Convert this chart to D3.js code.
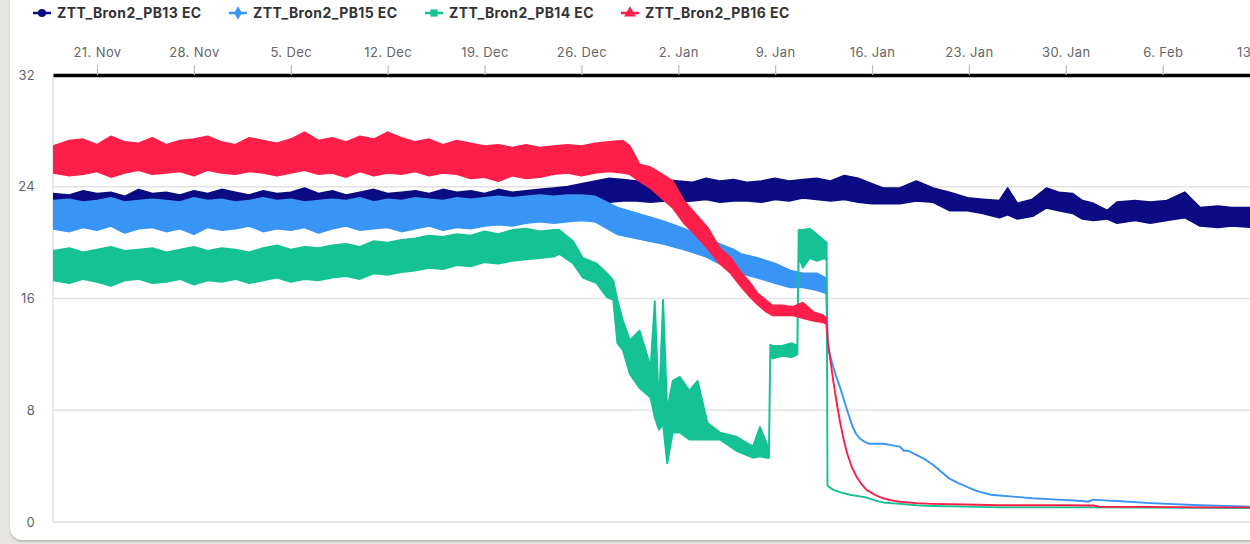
<!DOCTYPE html>
<html>
<head>
<meta charset="utf-8">
<script src="https://cdn.jsdelivr.net/npm/d3@7"></script>
<style>
  html, body { margin: 0; padding: 0; background: #e8e6e2; overflow: hidden; }
  body { width: 1250px; height: 544px; position: relative; }
  .card { position: absolute; left: 10px; top: -20px; width: 1300px; height: 560px;
          background: #fff; border-radius: 12px; box-shadow: 0 2px 2px rgba(0,0,0,0.18); }
  svg { position: absolute; left: 0; top: 0; }
  text { font-family: Inter, "Noto Sans", sans-serif; }
</style>
</head>
<body>
<div class="card"></div>
<svg id="chart" width="1250" height="544"></svg>
<script>
// EC readings, well 2 sensors. Time is given in days from 21 Nov 2022 (00:00 UTC).
// Noisy stretches carry a low/high envelope per sample; where the hi list ends
// the reading is a clean single line (hi = lo).

const pb13Days = [-3.2,-2,-1,0,1,2,3,4,5,6,7,8,9,10,11,12,13,14,15,16,17,18,19,20,21,22,23,24,25,26,27,28,29,30,31,32,33,
  34,35,36,37,38,39,40,41,42,43,44,45,46,47,48,49,50,51,52,53,54,55,56,
  56.8,58.0,59.2,60.4,61.6,62.9,64.0,65.2,65.8,66.5,67.6,68.6,69.5,70.5,71.2,72.0,73.0,73.7,75.0,76.1,77.3,78.6,79.7,81.0,82.0,83.4];
const pb13Lo = [22.0,21.9,22.1,22.0,21.8,22.1,22.0,22.2,21.9,22.0,22.1,21.9,22.0,22.2,22.0,21.9,22.1,22.0,22.0,22.1,
  21.9,22.0,22.2,22.0,22.1,21.9,22.0,22.1,22.0,22.2,22.1,22.2,22.1,22.3,22.2,22.3,22.4,
  22.5,22.6,22.8,22.9,23.0,23.0,22.9,23.0,22.9,23.0,23.1,22.9,23.0,23.0,22.9,23.1,23.0,23.2,23.1,23.0,23.1,22.9,22.8,
  22.8,22.8,23.0,22.9,22.3,22.3,22.1,21.8,22.0,21.7,21.9,22.5,22.3,22.1,21.7,21.6,21.7,21.4,21.6,21.4,21.6,21.8,21.2,21.1,21.2,21.1];
const pb13Hi = [23.5,23.4,23.7,23.5,23.6,23.3,23.8,23.5,23.6,23.4,23.7,23.5,23.8,23.6,23.4,23.7,23.5,23.6,23.9,23.5,
  23.7,23.4,23.6,23.8,23.5,23.6,23.7,23.5,23.8,23.6,23.7,23.5,23.8,23.6,23.7,23.8,23.9,
  24.0,24.2,24.4,24.6,24.5,24.4,24.3,24.5,24.4,24.3,24.6,24.4,24.5,24.3,24.4,24.6,24.4,24.5,24.6,24.4,24.8,24.6,24.2,
  23.9,23.9,24.4,23.9,23.6,23.2,23.1,23.0,23.9,22.8,23.1,23.9,23.6,23.5,23.0,22.8,22.3,22.9,23.0,22.9,23.0,23.6,22.5,22.6,22.5,22.5];

const pb15Days = [-3.2,-2,-1,0,1,2,3,4,5,6,7,8,9,10,11,12,13,14,15,16,17,18,19,20,21,22,23,24,25,26,27,28,29,30,31,32,33,34,35,
  36,37.6,39,40,41,42.1,43.4,44,45,46,46.5,47.7,49,50.1,51,52,52.6,52.7,
  52.8,53.0,53.2,53.45,53.7,53.95,54.2,54.4,54.6,54.85,55.1,55.45,55.8,56.3,56.8,57.4,58.0,58.1,58.3,58.6,59.2,59.8,
  60.4,61.0,61.6,62.2,62.9,63.5,64.0,64.6,65.2,66.4,67.6,69.4,71.2,71.6,72.0,72.8,73.7,76.1,79.7,83.4];
const pb15Lo = [21.0,20.8,21.1,20.9,21.2,20.7,21.0,21.1,20.8,21.0,20.6,21.1,20.9,21.0,21.2,20.8,21.0,20.9,21.1,20.7,
  21.0,21.2,20.9,21.0,21.1,20.8,21.0,21.2,20.9,21.1,21.0,21.2,21.3,21.2,21.4,21.5,21.4,21.5,21.6,
  21.5,20.6,20.3,20.1,19.9,19.6,19.2,19.0,18.5,18.1,17.8,17.5,17.1,16.8,16.8,16.6,16.4,16.4,
  12.5,11.8,11.1,10.3,9.6,8.8,8.0,7.4,6.8,6.3,6.0,5.75,5.6,5.6,5.6,5.5,5.4,5.3,5.1,5.1,4.8,4.5,
  4.1,3.6,3.1,2.8,2.5,2.25,2.1,1.95,1.9,1.8,1.7,1.6,1.5,1.45,1.6,1.55,1.5,1.35,1.2,1.1];
const pb15Hi = [23.0,23.1,22.9,23.0,23.2,22.9,23.0,23.1,23.0,22.9,23.2,23.0,23.1,22.9,23.0,23.2,23.0,23.1,22.9,23.0,
  23.1,23.0,23.2,22.9,23.1,23.0,23.2,23.1,23.0,23.2,23.1,23.2,23.3,23.2,23.3,23.4,23.3,23.4,23.4,
  23.3,22.5,22.1,21.8,21.5,21.1,20.6,20.4,19.9,19.5,19.2,18.9,18.5,18.0,17.8,17.8,17.5,17.3,
  12.7];

const pb14Days = [-3.2,-2,-1,0,1,2,3,4,5,6,7,8,9,10,11,12,13,14,15,16,17,18,19,20,21,22,23,24,25,26,27,28,29,30,31,32,33,
  33.4,34.4,35.1,36.1,36.85,37.3,37.6,38.0,38.5,39.2,40.0,40.3,40.6,40.9,41.2,41.6,42.1,42.8,43.4,44.1,45.0,46.2,47.4,47.9,48.4,48.55,
  48.65,48.8,49.5,50.2,50.6,50.7,51.0,51.5,52.0,52.6,52.72,
  52.78,53.2,53.8,54.4,55.0,55.6,56.2,56.8,58.0,59.2,60.4,62.8,65.2,72.0,83.4];
const pb14Lo = [17.3,17.1,17.4,17.2,16.9,17.3,17.4,17.1,17.2,17.4,17.0,
  17.3,17.2,17.4,17.1,17.3,17.5,17.2,17.4,17.3,17.5,
  17.6,17.4,17.8,17.7,17.9,18.0,18.2,18.1,18.4,18.3,
  18.6,18.5,18.7,18.8,18.9,19.0,
  19.2,18.5,17.5,17.1,16.1,15.9,12.8,12.3,10.6,9.6,8.9,7.5,6.6,7.0,4.2,6.4,6.4,5.9,5.9,5.9,5.9,5.1,4.6,4.7,4.6,4.6,
  12.3,11.7,11.9,11.8,12.0,19.0,18.2,18.9,18.7,18.9,18.7,
  2.6,2.3,2.1,1.95,1.85,1.75,1.55,1.4,1.3,1.2,1.15,1.1,1.05,1.05,1.0];
const pb14Hi = [19.4,19.6,19.3,19.5,19.7,19.4,19.5,19.6,19.3,19.5,19.7,
  19.4,19.6,19.5,19.3,19.6,19.8,19.5,19.7,19.6,19.8,
  19.9,19.7,20.1,20.0,20.2,20.3,20.5,20.4,20.6,20.5,
  20.8,20.6,20.9,21.0,20.8,20.9,
  20.9,20.1,18.9,18.5,17.8,17.3,15.9,14.4,13.0,13.7,11.1,15.8,8.2,15.9,8.0,10.1,10.4,9.4,10.1,7.1,6.4,6.1,5.4,6.8,5.6,5.1,
  12.7,12.6,12.6,12.8,12.6,20.9,20.9,21.0,20.6,20.1,20.0];

const pb16Days = [-3.2,-2,-1,0,1,2,3,4,5,6,7,8,9,10,11,12,13,14,15,16,17,18,19,20,21,22,23,24,25,26,27,28,29,30,31,32,33,34,35,36,37,38,
  38.5,39.2,40.0,40.8,41.6,42.4,43.2,44.1,45.0,45.8,46.5,47.2,47.7,48.3,48.8,49.5,50.3,51.0,51.8,52.45,52.7,
  52.8,53.0,53.2,53.45,53.7,53.95,54.2,54.55,54.9,55.25,55.6,56.2,56.8,57.4,58.0,59.2,60.4,62.8,65.2,70.0,72.0,72.5,76.0,80.0,83.4];
const pb16Lo = [25.0,24.8,24.9,25.1,24.7,25.0,25.2,24.9,25.0,25.1,24.8,
  25.2,25.0,24.9,25.1,25.0,24.8,25.0,25.2,24.9,25.0,
  24.7,25.1,24.8,25.0,24.9,25.1,24.8,25.0,24.9,24.6,
  24.7,24.4,24.8,24.6,24.7,24.9,25.0,24.8,25.0,25.1,25.0,
  24.9,24.4,23.9,23.2,22.5,21.4,20.6,19.6,18.5,17.8,16.9,16.1,15.6,15.1,14.8,14.8,14.8,14.6,14.4,14.3,14.2,
  13.0,11.5,10.1,8.5,7.1,5.9,4.9,3.9,3.2,2.7,2.3,1.95,1.7,1.55,1.45,1.35,1.3,1.25,1.2,1.2,1.18,1.08,1.08,1.05,1.05];
const pb16Hi = [26.9,27.3,27.4,27.0,27.6,27.2,27.1,27.5,27.0,27.3,27.4,
  27.6,27.2,27.0,27.5,27.3,27.1,27.4,27.9,27.3,27.5,
  27.2,27.6,27.4,27.9,27.5,27.2,27.4,27.0,27.3,27.1,
  26.9,27.0,26.8,27.0,26.8,26.9,27.0,26.9,27.1,27.2,27.3,
  26.9,25.6,25.4,24.9,24.4,23.0,22.1,21.1,19.6,18.9,17.9,17.1,16.4,15.9,15.5,15.5,15.4,15.7,15.0,14.8,14.6];

const seriesNames = ["ZTT_Bron2_PB13 EC", "ZTT_Bron2_PB15 EC", "ZTT_Bron2_PB14 EC", "ZTT_Bron2_PB16 EC"];
const seriesColors = ["#0b0b84", "#3895f5", "#14c294", "#fd1f4a"];
const yTicks = [0, 8, 16, 24, 32];

// ---- layout ----
const W = 1250, H = 544;
const plotLeft = 53, plotTop = 75, plotBottom = 522;
const pxPerDay = 13.84;
const DAY = 864e5;
const base = Date.UTC(2022, 10, 21);
const t0 = new Date(base - 3.18 * DAY);
const t1 = new Date(base + 84.6 * DAY);
const plotRight = plotLeft + (t1 - t0) / DAY * pxPerDay;

const x = d3.scaleUtc().domain([t0, t1]).range([plotLeft, plotRight]);
const y = d3.scaleLinear().domain([0, 32]).range([plotBottom, plotTop]);

const svg = d3.select("#chart");

svg.append("defs").append("clipPath").attr("id", "plot-clip")
  .append("rect").attr("x", plotLeft).attr("y", plotTop - 2)
  .attr("width", plotRight - plotLeft).attr("height", plotBottom - plotTop + 4);

// grid
svg.append("g").selectAll("line").data(yTicks.filter(v => v > 0 && v < 32)).join("line")
  .attr("x1", plotLeft).attr("x2", W).attr("y1", d => y(d)).attr("y2", d => y(d))
  .attr("stroke", "#e3e3e3").attr("stroke-width", 1.3);
svg.append("line").attr("x1", plotLeft).attr("x2", W).attr("y1", y(0)).attr("y2", y(0))
  .attr("stroke", "#dcdcdc").attr("stroke-width", 1.5);
svg.append("line").attr("x1", plotLeft).attr("x2", plotLeft).attr("y1", plotTop).attr("y2", plotBottom)
  .attr("stroke", "#dcdcdc").attr("stroke-width", 1.3);

// y axis labels
const yAxis = svg.append("g").attr("transform", `translate(${plotLeft},0)`)
  .call(d3.axisLeft(y).tickValues(yTicks).tickSize(0).tickPadding(18).tickFormat(d3.format("d")));
yAxis.select(".domain").remove();
yAxis.selectAll("text").attr("fill", "#666").attr("font-size", 13).attr("letter-spacing", 0.3);

// series
const series = seriesNames.map((name, i) => {
  const days = [pb13Days, pb15Days, pb14Days, pb16Days][i];
  const lo = [pb13Lo, pb15Lo, pb14Lo, pb16Lo][i];
  const hi = [pb13Hi, pb15Hi, pb14Hi, pb16Hi][i];
  return {
    name, color: seriesColors[i],
    points: days.map((d, k) => ({ t: new Date(base + d * DAY), lo: lo[k], hi: hi[k] ?? lo[k] }))
  };
});

const band = d3.area()
  .x(p => x(p.t))
  .y0(p => y(p.lo))
  .y1(p => y(p.hi));

const gSeries = svg.append("g").attr("clip-path", "url(#plot-clip)");
gSeries.selectAll("path").data(series).join("path")
  .attr("d", s => band(s.points))
  .attr("fill", s => s.color)
  .attr("stroke", s => s.color)
  .attr("stroke-width", 1.9)
  .attr("stroke-linejoin", "round");

// top time axis
const weekTicks = d3.utcMonday.range(Date.UTC(2022, 10, 21), Date.UTC(2023, 1, 14));
const xAxis = svg.append("g").attr("transform", `translate(0,${plotTop})`)
  .call(d3.axisTop(x).tickValues(weekTicks).tickFormat(d3.utcFormat("%-d. %b"))
    .tickSize(10).tickSizeOuter(0).tickPadding(8));
xAxis.select(".domain").attr("stroke", "#000").attr("stroke-width", 3.5);
xAxis.selectAll(".tick line").attr("stroke", "#bbb").attr("stroke-width", 1.2);
xAxis.selectAll(".tick text").attr("fill", "#666").attr("font-size", 13).attr("letter-spacing", 0.4);

// legend
const legendX = [42, 238, 434, 630];
const symbols = [d3.symbolCircle, d3.symbolDiamond, d3.symbolSquare, d3.symbolTriangle];
const legend = svg.append("g").selectAll("g").data(series).join("g")
  .attr("transform", (s, i) => `translate(${legendX[i]},13)`);
legend.append("line").attr("x1", -9).attr("x2", 9)
  .attr("stroke", s => s.color).attr("stroke-width", 2.5);
legend.append("path").attr("d", (s, i) => d3.symbol().type(symbols[i]).size(i === 3 ? 60 : 52)())
  .attr("fill", s => s.color);
legend.append("text").attr("x", 15).attr("dy", "0.35em")
  .attr("font-size", 14).attr("font-weight", 700).attr("fill", "#333").attr("letter-spacing", 0.4)
  .text(s => s.name);
</script>
</body>
</html>
